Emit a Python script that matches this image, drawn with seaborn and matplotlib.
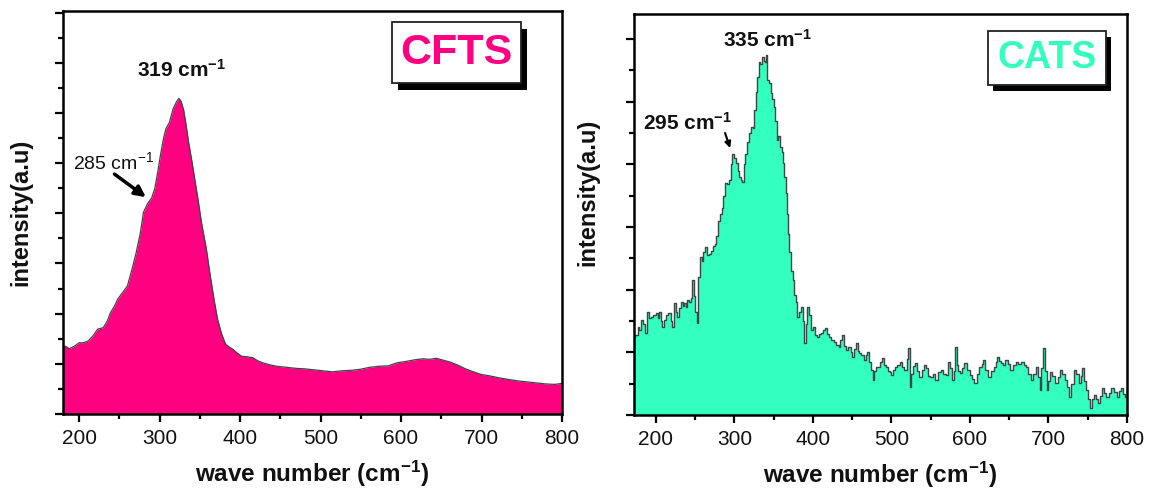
import matplotlib
matplotlib.use("Agg")
import matplotlib.pyplot as plt
import seaborn as sns
import pandas as pd
from matplotlib.patches import Rectangle
from matplotlib.ticker import MultipleLocator

# ---------------- data ----------------
cfts_wave = [180, 183, 188, 195, 200, 205, 211, 217, 223, 230, 235, 239, 244, 248, 254, 260,
             266, 271, 276, 280, 285, 290, 294, 298, 301, 305, 308, 312, 317, 321, 324, 327,
             330, 333, 336, 340, 343, 348, 352, 358, 363, 368, 372, 377, 382, 387, 391, 396,
             402, 409, 416, 422, 428, 437, 446, 458, 469, 480, 492, 503, 515, 526, 538, 549,
             561, 572, 584, 595, 607, 617, 627, 636, 644, 653, 662, 671, 680, 690, 699, 710,
             722, 733, 745, 756, 768, 779, 791, 800]
cfts_int = [1.35, 1.35, 1.30, 1.36, 1.42, 1.42, 1.45, 1.55, 1.69, 1.72, 1.85, 2.02, 2.15, 2.29, 2.42, 2.55,
            2.90, 3.22, 3.60, 4.02, 4.19, 4.30, 4.49, 4.85, 5.15, 5.50, 5.69, 5.80, 6.09, 6.22, 6.29, 6.22,
            6.05, 5.75, 5.42, 5.05, 4.75, 4.25, 3.82, 3.30, 2.75, 2.25, 1.89, 1.60, 1.39, 1.33, 1.29, 1.22,
            1.15, 1.14, 1.12, 1.06, 1.02, 0.98, 0.95, 0.93, 0.91, 0.90, 0.88, 0.86, 0.84, 0.86, 0.87, 0.89,
            0.93, 0.95, 0.96, 1.02, 1.05, 1.08, 1.10, 1.09, 1.11, 1.07, 1.03, 0.97, 0.90, 0.84, 0.79, 0.76,
            0.72, 0.69, 0.66, 0.64, 0.62, 0.60, 0.59, 0.61]

cats_wave = [172, 175, 178, 180, 183, 185, 187, 190, 193, 195, 198, 201, 203, 205, 207, 209,
             212, 214, 216, 218, 220, 222, 224, 226, 228, 231, 233, 235, 237, 239, 241, 244,
             246, 247, 249, 251, 253, 255, 257, 259, 261, 264, 266, 269, 271, 274, 276, 278,
             280, 283, 285, 287, 289, 291, 294, 296, 298, 300, 303, 305, 307, 309, 311, 313,
             315, 317, 320, 322, 324, 326, 328, 330, 332, 334, 336, 338, 339, 341, 343, 345,
             347, 349, 351, 353, 355, 357, 359, 361, 362, 364, 366, 368, 369, 371, 373, 375,
             377, 379, 381, 383, 386, 388, 390, 392, 394, 396, 399, 401, 403, 406, 409, 411,
             414, 416, 419, 422, 425, 428, 431, 434, 436, 438, 441, 443, 445, 447, 449, 451,
             453, 456, 458, 460, 463, 466, 468, 470, 472, 475, 477, 479, 481, 484, 487, 490,
             492, 494, 497, 499, 501, 504, 506, 509, 512, 515, 518, 521, 522, 524, 526, 528,
             531, 534, 537, 540, 542, 545, 548, 551, 554, 558, 561, 564, 567, 571, 573, 575,
             578, 580, 582, 584, 586, 588, 591, 595, 598, 601, 604, 607, 610, 614, 616, 618,
             621, 625, 628, 632, 634, 636, 638, 640, 643, 647, 650, 653, 657, 660, 663, 667,
             670, 673, 676, 679, 682, 686, 688, 690, 692, 694, 696, 699, 701, 703, 706, 710,
             713, 716, 719, 723, 725, 727, 730, 734, 737, 740, 742, 744, 747, 749, 752, 754,
             757, 760, 762, 764, 767, 770, 772, 775, 778, 782, 785, 789, 791, 793, 796, 799, 800]
cats_int = [1.25, 1.28, 1.40, 1.36, 1.52, 1.45, 1.31, 1.64, 1.55, 1.56, 1.60, 1.62, 1.55, 1.64, 1.50, 1.41,
            1.52, 1.59, 1.62, 1.62, 1.50, 1.41, 1.78, 1.65, 1.56, 1.70, 1.80, 1.74, 1.78, 1.72, 1.83, 1.80,
            1.87, 2.15, 1.90, 1.64, 1.47, 2.20, 2.52, 2.45, 2.60, 2.68, 2.55, 2.57, 2.62, 2.70, 2.73, 2.85,
            3.10, 3.20, 3.31, 3.50, 3.70, 3.68, 3.75, 4.00, 4.17, 4.10, 4.02, 3.90, 3.80, 3.75, 3.72, 4.00,
            4.17, 4.35, 4.50, 4.60, 4.58, 4.86, 5.15, 5.40, 5.63, 5.60, 5.71, 5.65, 5.63, 5.74, 5.34, 5.30,
            5.14, 5.05, 4.91, 4.70, 4.39, 4.45, 4.27, 4.20, 4.02, 3.80, 3.54, 3.20, 2.89, 2.60, 2.30, 2.15,
            1.91, 1.80, 1.56, 1.65, 1.72, 1.50, 1.15, 1.45, 1.72, 1.60, 1.36, 1.40, 1.28, 1.24, 1.30, 1.31,
            1.35, 1.39, 1.30, 1.24, 1.20, 1.16, 1.12, 1.08, 1.20, 1.28, 1.10, 1.04, 1.08, 1.08, 1.00, 0.93,
            1.05, 1.15, 1.02, 0.99, 0.95, 0.88, 0.95, 1.00, 0.85, 0.72, 0.56, 0.70, 0.77, 0.77, 0.85, 0.91,
            0.80, 0.77, 0.70, 0.68, 0.64, 0.72, 0.77, 0.80, 0.85, 0.76, 0.72, 0.90, 1.07, 0.45, 0.65, 0.78,
            0.83, 0.70, 0.61, 0.72, 0.80, 0.75, 0.62, 0.61, 0.66, 0.56, 0.68, 0.72, 0.66, 0.64, 0.85, 0.75,
            0.56, 0.70, 1.08, 0.80, 0.70, 0.67, 0.75, 0.83, 0.72, 0.64, 0.58, 0.51, 0.65, 0.77, 0.82, 0.88,
            0.72, 0.61, 0.70, 0.77, 0.85, 0.93, 0.86, 0.83, 0.80, 0.88, 0.82, 0.72, 0.80, 0.85, 0.82, 0.85,
            0.80, 0.77, 0.65, 0.56, 0.65, 0.77, 0.60, 0.40, 0.75, 1.07, 0.70, 0.40, 0.55, 0.69, 0.62, 0.51,
            0.60, 0.72, 0.65, 0.56, 0.45, 0.29, 0.50, 0.72, 0.65, 0.51, 0.62, 0.75, 0.55, 0.40, 0.25, 0.11,
            0.25, 0.32, 0.26, 0.19, 0.30, 0.43, 0.35, 0.29, 0.35, 0.43, 0.36, 0.29, 0.38, 0.43, 0.33, 0.29, 0.40]

x_ticks = [200, 300, 400, 500, 600, 700, 800]
panel_names = ["CFTS", "CATS"]

# ---------------- style ----------------
sns.set_theme(style="ticks")
plt.rcParams['font.family'] = ['Liberation Sans', 'DejaVu Sans']
plt.rcParams['mathtext.fontset'] = 'custom'
plt.rcParams['mathtext.rm'] = 'Liberation Sans'
plt.rcParams['mathtext.bf'] = 'Liberation Sans:bold'
plt.rcParams['mathtext.it'] = 'Liberation Sans:italic'

FILL1 = '#FF0080'
FILL2 = '#33FFBF'
EDGE = '#3d4646'

fig = plt.figure(figsize=(11.51, 4.90), dpi=100)
ax1 = fig.add_axes([63 / 1151, 76 / 490, 499 / 1151, 403 / 490])
ax2 = fig.add_axes([634 / 1151, 75 / 490, 493 / 1151, 401 / 490])

df1 = pd.DataFrame({'wave': cfts_wave, 'intensity': cfts_int})
df2 = pd.DataFrame({'wave': cats_wave, 'intensity': cats_int})

ax1.fill_between(df1['wave'], 0, df1['intensity'], color=FILL1, lw=0, zorder=1)
sns.lineplot(data=df1, x='wave', y='intensity', ax=ax1, color=EDGE, lw=0.9, zorder=2)

ax2.fill_between(df2['wave'], 0, df2['intensity'], color=FILL2, lw=0, step='mid', zorder=1)
sns.lineplot(data=df2, x='wave', y='intensity', ax=ax2, color=EDGE, lw=1.0,
             drawstyle='steps-mid', zorder=2)

ax1.set_xlim(180, 800)
ax1.set_ylim(0, 8.03)
ax2.set_xlim(172, 800)
ax2.set_ylim(0, 6.4)

for ax in (ax1, ax2):
    ax.set_xticks(x_ticks)
    ax.xaxis.set_minor_locator(MultipleLocator(50))
    ax.yaxis.set_major_locator(MultipleLocator(1))
    ax.yaxis.set_minor_locator(MultipleLocator(0.5))
    ax.tick_params(axis='both', which='major', direction='out', length=6, width=1.6,
                   color='black', labelsize=15, labelcolor='#111111', pad=5)
    ax.tick_params(axis='both', which='minor', direction='out', length=3.5, width=1.6,
                   color='black')
    ax.tick_params(axis='y', which='both', labelleft=False)
    ax.tick_params(top=False, right=False, which='both')
    for sp in ax.spines.values():
        sp.set_linewidth(1.8)
        sp.set_color('black')
        sp.set_zorder(5)
    ax.set_xlabel(r"wave number (cm$^{\mathbf{-1}}$)", fontsize=17.5, fontweight='bold', color='#111111')
    ax.set_ylabel("intensity(a.u)", fontsize=17, fontweight='bold', color='#111111')
    ax.grid(False)

ax1.xaxis.set_label_coords(0.5, -0.112)
ax2.xaxis.set_label_coords(0.5, -0.112)
ax1.yaxis.set_label_coords(-0.062, 0.5)
ax2.yaxis.set_label_coords(-0.071, 0.556)

# ---------------- annotations ----------------
ax1.text(272, 6.71, r"319 cm$^{\mathbf{-1}}$", fontsize=15, fontweight='bold', color='#111111',
         ha='left', va='baseline')
ax1.text(192, 4.88, r"285 cm$^{-1}$", fontsize=14, color='#111111', ha='left', va='baseline')
ax1.annotate('', xy=(283, 4.32), xytext=(244, 4.78),
             arrowprops=dict(arrowstyle='-|>', color='black', lw=2.5, mutation_scale=16,
                             shrinkA=0, shrinkB=0))

ax2.text(285, 5.87, r"335 cm$^{\mathbf{-1}}$", fontsize=15, fontweight='bold', color='#111111',
         ha='left', va='baseline')
ax2.text(183, 4.55, r"295 cm$^{\mathbf{-1}}$", fontsize=15, fontweight='bold', color='#111111',
         ha='left', va='baseline')
ax2.annotate('', xy=(294.5, 4.26), xytext=(288, 4.50),
             arrowprops=dict(arrowstyle='-|>', color='black', lw=1.5, mutation_scale=9,
                             shrinkA=0, shrinkB=0))

# ---------------- label boxes ----------------
def label_box(ax, x0, y0, w, h, dx, dy, text, color, size):
    ax.add_patch(Rectangle((x0 + dx, y0 - dy), w, h, transform=ax.transAxes,
                           facecolor='black', edgecolor='black', lw=0, zorder=6, clip_on=False))
    ax.add_patch(Rectangle((x0, y0), w, h, transform=ax.transAxes,
                           facecolor='white', edgecolor='#222222', lw=1.3, zorder=7, clip_on=False))
    ax.text(x0 + w / 2, y0 + h / 2, text, transform=ax.transAxes, fontsize=size,
            fontweight='bold', color=color, ha='center', va='center', zorder=8)

label_box(ax1, 0.659, 0.821, 0.259, 0.152, 0.012, 0.017, panel_names[0], FILL1, 31)
label_box(ax2, 0.718, 0.823, 0.239, 0.135, 0.011, 0.015, panel_names[1], FILL2, 27)

fig.savefig("out.png", dpi=100)
